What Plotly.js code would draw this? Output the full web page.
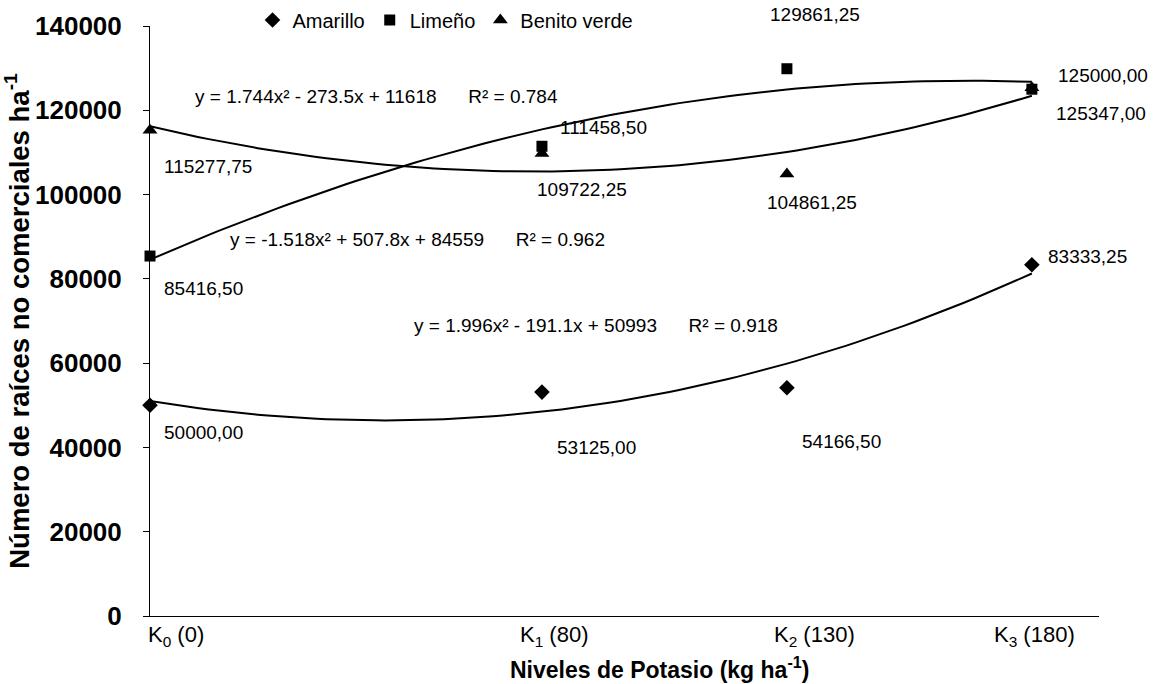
<!DOCTYPE html>
<html>
<head>
<meta charset="utf-8">
<script src="https://cdn.plot.ly/plotly-3.0.1.min.js"></script>
<style>html,body{margin:0;padding:0;background:#fff;}#chart{width:1156px;height:684px;}</style>
</head>
<body>
<div id="chart"></div>
<script>
// ---- data ----
const categories = ['K<sub>0</sub> (0)', 'K<sub>1</sub> (80)', 'K<sub>2</sub> (130)', 'K<sub>3</sub> (180)'];
const potasio = [0, 80, 130, 180];
const seriesNames = ['Amarillo', 'Limeño', 'Benito verde'];
const amarillo = [50000.00, 53125.00, 54166.50, 83333.25];
const limeno = [85416.50, 111458.50, 129861.25, 125000.00];
const benito = [115277.75, 109722.25, 104861.25, 125347.00];
const equationTexts = [
  'y = 1.996x² - 191.1x + 50993\u00A0\u00A0\u00A0\u00A0\u00A0\u00A0R² = 0.918',
  'y = -1.518x² + 507.8x + 84559\u00A0\u00A0\u00A0\u00A0\u00A0\u00A0R² = 0.962',
  'y = 1.744x² - 273.5x + 11618\u00A0\u00A0\u00A0\u00A0\u00A0\u00A0R² = 0.784'
];
const xTitle = 'Niveles de Potasio (kg ha<sup>-1</sup>)';
const yTitle = 'Número de raíces no comerciales ha<sup>-1</sup>';

// ---- helpers ----
function quadFit(xs, ys) {
  // least squares y = a x^2 + b x + c (same as a spreadsheet polynomial trendline)
  let S = [0,0,0,0,0], T = [0,0,0];
  for (let i = 0; i < xs.length; i++) {
    let p = 1;
    for (let k = 0; k < 5; k++) { S[k] += p; p *= xs[i]; }
    T[0] += ys[i]; T[1] += ys[i]*xs[i]; T[2] += ys[i]*xs[i]*xs[i];
  }
  const M = [[S[0],S[1],S[2],T[0]],[S[1],S[2],S[3],T[1]],[S[2],S[3],S[4],T[2]]];
  for (let c = 0; c < 3; c++) {
    for (let r = c+1; r < 3; r++) {
      const f = M[r][c]/M[c][c];
      for (let k = c; k < 4; k++) M[r][k] -= f*M[c][k];
    }
  }
  const sol = [0,0,0];
  for (let r = 2; r >= 0; r--) {
    let s = M[r][3];
    for (let k = r+1; k < 3; k++) s -= M[r][k]*sol[k];
    sol[r] = s/M[r][r];
  }
  return {c: sol[0], b: sol[1], a: sol[2]};
}
function fmt(v) { return v.toFixed(2).replace('.', ','); }

const FONT = 'Arial, "Liberation Sans", sans-serif';
const allSeries = [amarillo, limeno, benito];
const symbols = ['diamond', 'square', 'triangle-up'];
const sizes = [12, 11, 13];

const traces = [];
allSeries.forEach((ys, si) => {
  const f = quadFit(potasio, ys);
  const lx = [], ly = [];
  const x0 = potasio[0], x1 = potasio[potasio.length-1];
  for (let i = 0; i <= 90; i++) {
    const v = x0 + (x1 - x0) * i / 90;
    lx.push(v); ly.push(f.a*v*v + f.b*v + f.c);
  }
  traces.push({x: lx, y: ly, mode: 'lines', line: {color: '#000', width: 2}, showlegend: false, hoverinfo: 'skip', cliponaxis: false});
});
allSeries.forEach((ys, si) => {
  traces.push({x: potasio, y: ys, name: seriesNames[si], mode: 'markers',
    marker: {symbol: symbols[si], size: sizes[si], color: '#000'}, cliponaxis: false});
});

// label offsets (px) per series and point
const labelOffsets = [
  [[12,-27],[13,-55],[13,-54],[14,8]],      // amarillo
  [[12,-32],[16,19],[-19,54],[24,14]],      // limeno
  [[12,-36],[-7,-36],[-22,-28],[22,-26]]    // benito
];
const annotations = [];
allSeries.forEach((ys, si) => {
  ys.forEach((v, i) => {
    annotations.push({x: potasio[i], y: v, xref: 'x', yref: 'y', text: fmt(v), showarrow: false,
      xanchor: 'left', yanchor: 'middle', xshift: labelOffsets[si][i][0], yshift: labelOffsets[si][i][1],
      font: {family: FONT, size: 19, color: '#000'}});
  });
});
// equations
const eqPos = [[0.2761, 0.4932], [0.0822, 0.6373], [0.0453, 0.8797]];
equationTexts.forEach((t, i) => {
  annotations.push({x: eqPos[i][0], y: eqPos[i][1], xref: 'paper', yref: 'paper', text: t, showarrow: false,
    xanchor: 'left', yanchor: 'middle', font: {family: FONT, size: 19, color: '#000'}});
});
// x category labels
const catShift = [26, 13, 28, 3];
categories.forEach((c, i) => {
  annotations.push({x: potasio[i], y: -0.034, xref: 'x', yref: 'paper', text: c, showarrow: false,
    xanchor: 'center', yanchor: 'middle', xshift: catShift[i], font: {family: FONT, size: 22, color: '#000'}});
});
// x title
annotations.push({x: 0.537, y: -0.088, xref: 'paper', yref: 'paper', text: xTitle, showarrow: false,
  xanchor: 'center', yanchor: 'middle', font: {family: FONT, size: 23, color: '#000', weight: 'bold'}});

const layout = {
  width: 1156, height: 684,
  margin: {l: 150, r: 57, t: 26, b: 68, pad: 0, autoexpand: false},
  paper_bgcolor: '#fff', plot_bgcolor: '#fff',
  font: {family: FONT, color: '#000'},
  xaxis: {range: [0, 193.7], showline: true, linecolor: '#000', linewidth: 1, ticks: '', showticklabels: false,
    showgrid: false, zeroline: false, fixedrange: true},
  yaxis: {range: [0, 140000], dtick: 20000, tick0: 0, ticks: 'outside', ticklen: 6, tickcolor: '#000', tickwidth: 1,
    showline: true, linecolor: '#000', linewidth: 1, showgrid: false, zeroline: false, tickformat: 'd',
    ticklabelstandoff: 16,
    tickfont: {family: FONT, size: 26, color: '#000', weight: 'bold'},
    title: {text: '\u00A0\u00A0\u00A0' + yTitle, font: {family: FONT, size: 27.5, color: '#000', weight: 'bold'}, standoff: 4}},
  showlegend: true,
  legend: {orientation: 'h', x: 0.108, xanchor: 'left', y: 1.0102, yanchor: 'middle',
    font: {family: FONT, size: 20, color: '#000'}, bgcolor: 'rgba(0,0,0,0)', itemclick: false},
  annotations: annotations
};
Plotly.newPlot('chart', traces, layout, {displayModeBar: false, staticPlot: true});
</script>
</body>
</html>
